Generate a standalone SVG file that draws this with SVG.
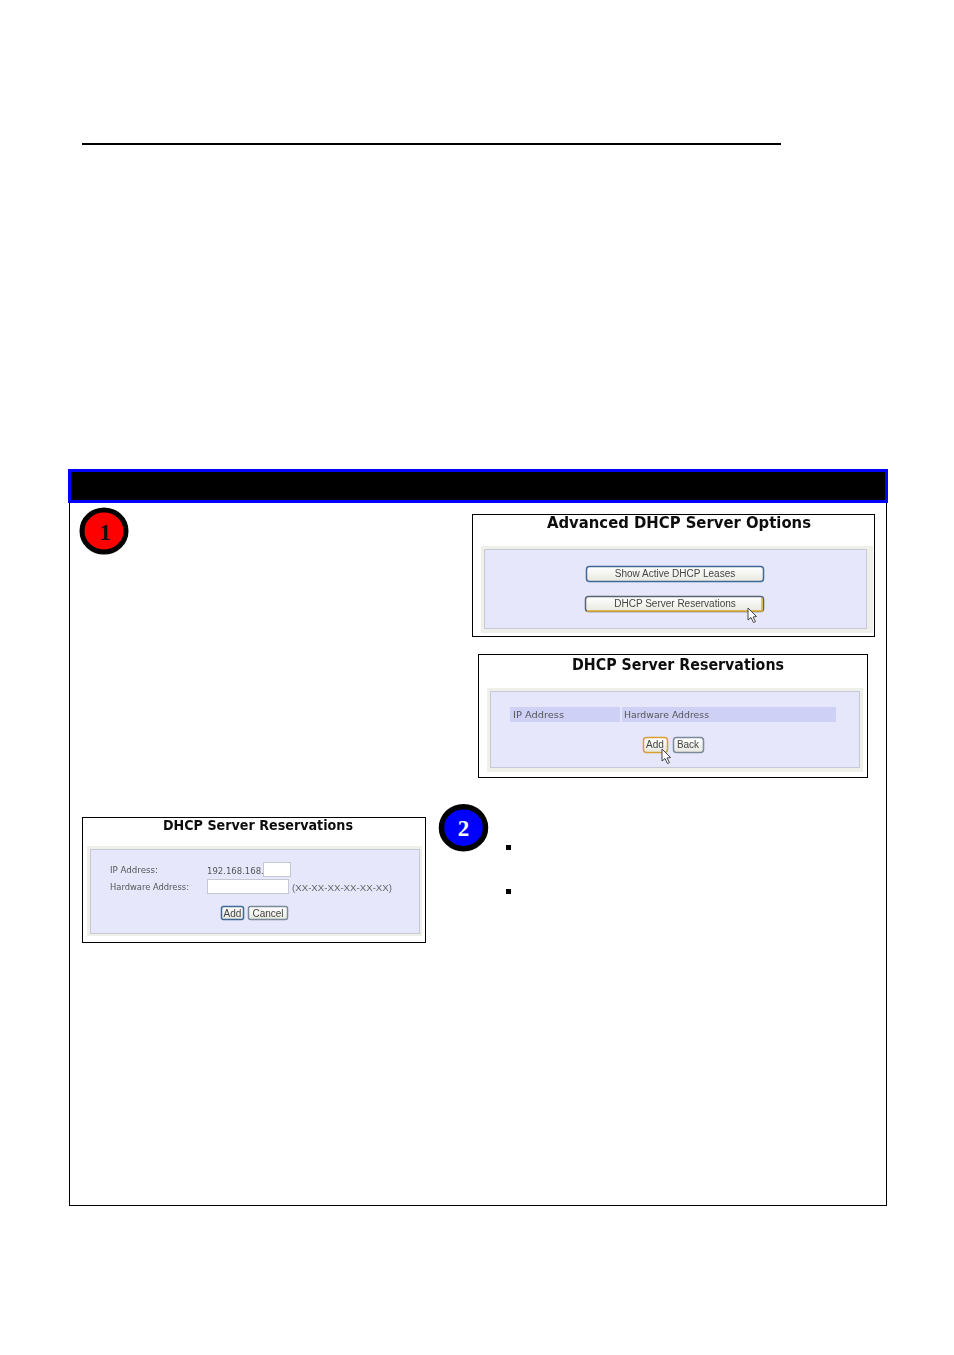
<svg xmlns="http://www.w3.org/2000/svg" width="954" height="1355" viewBox="0 0 954 1355">
<defs>
<linearGradient id="btn" x1="0" y1="0" x2="0" y2="1"><stop offset="0" stop-color="#ffffff"/><stop offset="1" stop-color="#e8e8e0"/></linearGradient>
<path id="cursor" d="M0 0 L0 12 L3 9.5 L5.500 14.500 L7.500 13.500 L5 9 L8.500 8.500 Z" fill="#fff" stroke="#333" stroke-width="0.9"/>
<filter id="soft" x="-2%" y="-2%" width="104%" height="104%"><feGaussianBlur stdDeviation="0.4"/></filter>
</defs>
<style>
.shot{fill:#fff;stroke:#000;stroke-width:1}
.outer{fill:#f0f0ea;stroke:none}
.panel{fill:#e6e7fb;stroke:#c8c9d6;stroke-width:1}
.title{font-family:"DejaVu Sans",sans-serif;font-weight:700;fill:#111;text-anchor:middle}
.ui{font-family:"DejaVu Sans",sans-serif;fill:#555}
.uis{font-family:"Liberation Sans",sans-serif;font-size:10px;fill:#444;text-anchor:middle}
.btn{fill:url(#btn);stroke:#3f6a94;stroke-width:1.5}
.hot{fill:url(#btn);stroke:#5a6470;stroke-width:1.5}
.hotb{fill:none;stroke:#e8b030;stroke-width:1.5}
.field{fill:#fff;stroke:#c4c8d4;stroke-width:1}
.num{font-family:"Liberation Serif",serif;font-weight:700;font-size:23px;text-anchor:middle}
</style>
<line x1="82" y1="144" x2="781" y2="144" stroke="#000" stroke-width="2"/>
<g id="frame">
<rect x="69.500" y="480" width="817" height="725.500" fill="#fff" stroke="#000" stroke-width="1"/>
<rect x="69.500" y="470.500" width="817" height="31" fill="#000" stroke="#0000ff" stroke-width="3"/>
</g>
<g id="step-1">
<ellipse cx="104" cy="531" rx="22" ry="21" fill="#ff0000" stroke="#000" stroke-width="5"/>
<text class="num" x="105" y="540" fill="#111">1</text>
</g>
<g id="step-2">
<ellipse cx="463.500" cy="827.700" rx="22" ry="21" fill="#0000ff" stroke="#000" stroke-width="5.500"/>
<text class="num" x="463.500" y="836" fill="#fff">2</text>
<rect x="506" y="845" width="5" height="5" fill="#000"/>
<rect x="506" y="889" width="5" height="5" fill="#000"/>
</g>
<g id="shot-options">
<rect class="shot" x="472.500" y="514.500" width="402" height="122"/>
<g filter="url(#soft)">
<text class="title" x="679" y="528" font-size="15" textLength="264" lengthAdjust="spacingAndGlyphs">Advanced DHCP Server Options</text>
<rect class="outer" x="481" y="546" width="392" height="87"/>
<rect class="panel" x="484.500" y="549.500" width="382" height="79"/>
<rect class="btn" x="586.500" y="566.500" width="177" height="15" rx="3"/>
<text class="uis" x="675" y="577">Show Active DHCP Leases</text>
<rect class="hot" x="585.500" y="596.500" width="178" height="15" rx="3"/>
<path class="hotb" d="M587 611 H762 V598"/>
<text class="uis" x="675" y="607">DHCP Server Reservations</text>
<use href="#cursor" x="748" y="608"/>
</g>
</g>
<g id="shot-reservations">
<rect class="shot" x="478.500" y="654.500" width="389" height="123"/>
<g filter="url(#soft)">
<text class="title" x="678" y="670" font-size="15" textLength="212" lengthAdjust="spacingAndGlyphs">DHCP Server Reservations</text>
<rect class="outer" x="487" y="688" width="376" height="84"/>
<rect class="panel" x="490.500" y="691.500" width="369" height="76"/>
<rect x="510" y="707" width="326" height="15" fill="#cfd0f6"/>
<line x1="621" y1="707" x2="621" y2="722" stroke="#eeeefc" stroke-width="1.500"/>
<text class="ui" x="513" y="718" font-size="9.500" textLength="51" lengthAdjust="spacingAndGlyphs">IP Address</text>
<text class="ui" x="624" y="718" font-size="9.500" textLength="85" lengthAdjust="spacingAndGlyphs">Hardware Address</text>
<rect class="hot" x="643.500" y="737.500" width="24" height="15" rx="3" style="stroke:#d8a030"/>
<text class="uis" x="655" y="748">Add</text>
<rect class="btn" x="673.500" y="737.500" width="30" height="15" rx="3" style="stroke:#7a8a9a"/>
<text class="uis" x="688" y="748">Back</text>
<use href="#cursor" x="662" y="749"/>
</g>
</g>
<g id="shot-add">
<rect class="shot" x="82.500" y="817.500" width="343" height="125"/>
<g filter="url(#soft)">
<text class="title" x="258" y="830" font-size="13.500" textLength="190" lengthAdjust="spacingAndGlyphs">DHCP Server Reservations</text>
<rect class="outer" x="87" y="846" width="335" height="90"/>
<rect class="panel" x="90.500" y="849.500" width="329" height="84"/>
<text class="ui" x="110" y="873" font-size="9" textLength="48" lengthAdjust="spacingAndGlyphs">IP Address:</text>
<text class="ui" x="110" y="890" font-size="9" textLength="79" lengthAdjust="spacingAndGlyphs">Hardware Address:</text>
<text x="207" y="874" font-family="'DejaVu Sans',sans-serif" font-size="8.500" fill="#555">192.168.168.</text>
<rect class="field" x="263.500" y="862.500" width="27" height="14"/>
<rect class="field" x="207.500" y="879.500" width="81" height="14"/>
<text x="292" y="891" font-family="'Liberation Sans',sans-serif" font-size="9.500" fill="#666" textLength="100" lengthAdjust="spacingAndGlyphs">(XX-XX-XX-XX-XX-XX)</text>
<rect class="btn" x="221.500" y="906.500" width="22" height="13" rx="2"/>
<text class="uis" x="232.500" y="917" font-size="9.500">Add</text>
<rect class="btn" x="248.500" y="906.500" width="39" height="13" rx="2" style="stroke:#7a8a9a"/>
<text class="uis" x="268" y="917">Cancel</text>
</g>
</g>
</svg>
